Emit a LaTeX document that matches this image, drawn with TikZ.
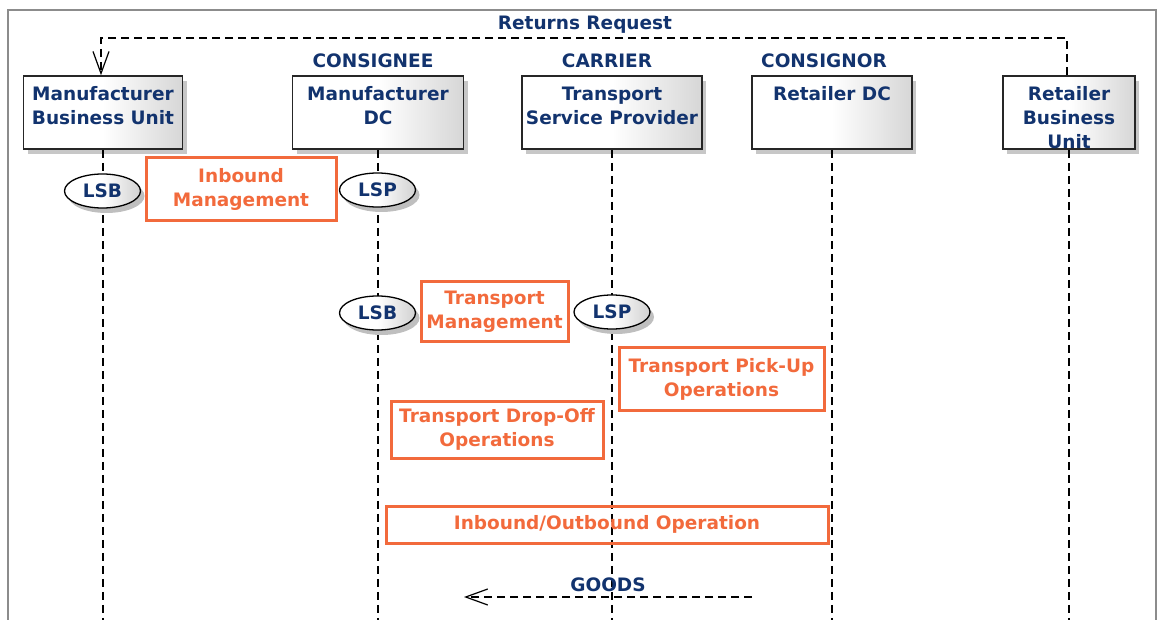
\documentclass[tikz,border=0pt]{standalone}
\usepackage{fontspec}
\setmainfont{DejaVu Sans}
\usetikzlibrary{shapes.geometric,shadows,arrows.meta}
\definecolor{navy}{HTML}{12336E}
\definecolor{orng}{HTML}{F26A3C}
\begin{document}
\begin{tikzpicture}[x=1pt,y=-1pt,
  txt/.style={font=\fontsize{18.5}{24}\selectfont\bfseries, text=navy, align=center, inner sep=0pt},
  actor/.style={draw=black!85, line width=1.6pt, rectangle, minimum height=73pt, inner sep=0pt,
    shading=axis, left color=white, right color=black!16, middle color=white,
    drop shadow={shadow xshift=4pt, shadow yshift=-5pt, fill=black!22, opacity=1}},
  oval/.style={ellipse, draw=black, line width=1.3pt, minimum width=76pt, minimum height=34pt, inner sep=0pt,
    shading=axis, left color=white, right color=black!18, middle color=white,
    drop shadow={shadow xshift=4pt, shadow yshift=-5pt, fill=black!25, opacity=1},
    font=\fontsize{18.5}{24}\selectfont\bfseries, text=navy},
  obox/.style={draw=orng, line width=3pt, rectangle, inner sep=0pt, align=center, text=orng,
    font=\fontsize{18.5}{24}\selectfont\bfseries},
  life/.style={draw=black, line width=1.4pt, dash pattern=on 8pt off 5pt},
  msg/.style={draw=black, line width=1.4pt, dash pattern=on 8pt off 5pt, -{Straight Barb[length=22pt,width=16pt,line width=1.2pt]}}
]
\useasboundingbox (0,0) rectangle (1157,620);
\clip (0,0) rectangle (1157,620);
% frame
\draw[black!45, line width=1.3pt] (8,10) rectangle (1156,640);

% actors
\node[actor, minimum width=159pt] (mbu) at (103,112.5) {};
\node[actor, minimum width=171pt] (mdc) at (378,112.5) {};
\node[actor, minimum width=180pt] (tsp) at (612,112.5) {};
\node[actor, minimum width=160pt] (rdc) at (832,112.5) {};
\node[actor, minimum width=132pt] (rbu) at (1069,112.5) {};

\node[txt, anchor=north] (mbut) at ([yshift=-11.5pt]mbu.north) {Manufacturer\\Business Unit};
\node[txt, anchor=north] (mdct) at ([yshift=-11.5pt]mdc.north) {Manufacturer\\DC};
\node[txt, anchor=north] (tspt) at ([yshift=-11.5pt]tsp.north) {Transport\\Service Provider};
\node[txt, anchor=north] (rdct) at ([yshift=-11.5pt]rdc.north) {Retailer DC};
\node[txt, anchor=north] (rbut) at ([yshift=-11.5pt]rbu.north) {Retailer\\Business\\Unit};

% role labels
\node[txt] (consignee) at (373,61) {CONSIGNEE};
\node[txt] (carrier) at (607,61) {CARRIER};
\node[txt] (consignor) at (824,61) {CONSIGNOR};
\node[txt] (retreq) at (585,25) {Returns Request};

% lifelines
\coordinate (mbue) at (103,625);
\coordinate (mdce) at (378,625);
\coordinate (tspe) at (612,625);
\coordinate (rdce) at (832,625);
\coordinate (rbue) at (1069,625);
\draw[life] (mbu.south) -- (mbue);
\draw[life] (mdc.south) -- (mdce);
\draw[life] (tsp.south) -- (tspe);
\draw[life] (rdc.south) -- (rdce);
\draw[life] (rbu.south) -- (rbue);

% returns request
\coordinate (rtop) at (0,38);
\draw[msg] ([xshift=-2pt]rbu.north) -- ([xshift=-2pt]rbu.north |- rtop) -| ([xshift=-2pt]mbu.north);

% ovals
\node[oval] (lsb1) at (102.5,191) {LSB};
\node[oval] (lsp1) at (377.5,190) {LSP};
\node[oval] (lsb2) at (377.5,313) {LSB};
\node[oval] (lsp2) at (612,312) {LSP};

% orange boxes
\node[obox, minimum width=190pt, minimum height=63pt] (inm) at (241,189.5) {Inbound\\Management};
\node[obox, minimum width=147pt, minimum height=60pt] (trm) at (494.5,312) {Transport\\Management};
\node[obox, minimum width=205pt, minimum height=62pt] (tpu) at (721.5,379) {Transport Pick-Up\\Operations};
\node[obox, minimum width=212pt, minimum height=57pt] (tdo) at (497,429.5) {Transport Drop-Off\\Operations};
\node[obox, minimum width=442pt, minimum height=37pt] (iob) at (607,524.5) {Inbound/Outbound Operation};

% goods
\node[txt] (goods) at (608,585) {GOODS};
\coordinate (gs) at (752,597);
\coordinate (ge) at (464,597);
\draw[msg] (gs) -- (ge);
\end{tikzpicture}
\end{document}
